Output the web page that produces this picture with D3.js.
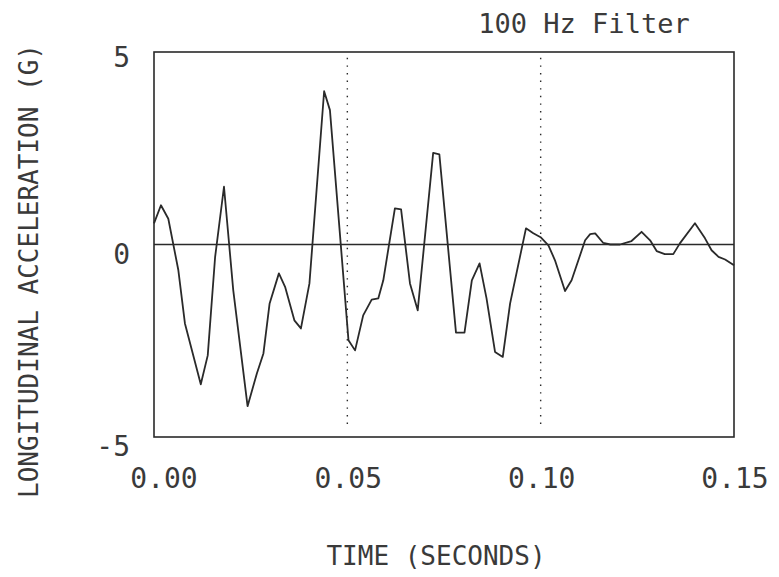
<!DOCTYPE html>
<html>
<head>
<meta charset="utf-8">
<script src="https://cdn.jsdelivr.net/npm/d3@7"></script>
<style>
  html, body { margin: 0; padding: 0; background: #fff; }
  svg { display: block; }
  text { font-family: "DejaVu Sans Mono", monospace; fill: #3a3a3a; }
</style>
</head>
<body>
<svg id="chart" width="779" height="577"></svg>
<script>
// ---- data ----
const times = [0, 0.0018, 0.0037, 0.0063, 0.0080, 0.0121, 0.0139, 0.0158, 0.0181, 0.0205, 0.0242,
  0.0266, 0.0283, 0.0299, 0.0323, 0.0339, 0.0363, 0.0380, 0.0402, 0.0440, 0.0455,
  0.0503, 0.0520, 0.0541, 0.0563, 0.0580, 0.0593, 0.0623, 0.0639, 0.0662, 0.0682,
  0.0722, 0.0738, 0.0781, 0.0803, 0.0822, 0.0842, 0.0860, 0.0882, 0.0902, 0.0921,
  0.0962, 0.0981, 0.1001, 0.1020, 0.1037, 0.1063, 0.1080, 0.1115, 0.1128, 0.1141,
  0.1162, 0.1180, 0.1205, 0.1235, 0.1261, 0.1283, 0.1300, 0.1321, 0.1343, 0.1360,
  0.1399, 0.1425, 0.1442, 0.1460, 0.1477, 0.1500];
const accel = [0.55, 1.02, 0.67, -0.67, -2.05, -3.63, -2.88, -0.33, 1.50, -1.19, -4.20,
  -3.35, -2.83, -1.53, -0.75, -1.10, -1.97, -2.18, -1.01, 3.98, 3.49,
  -2.49, -2.75, -1.84, -1.43, -1.40, -0.93, 0.94, 0.91, -1.01, -1.71,
  2.38, 2.34, -2.29, -2.29, -0.93, -0.49, -1.40, -2.79, -2.92, -1.53,
  0.42, 0.29, 0.18, -0.02, -0.41, -1.21, -0.93, 0.11, 0.27, 0.29,
  0.04, 0.00, 0.00, 0.09, 0.33, 0.11, -0.17, -0.25, -0.25, 0.03,
  0.55, 0.16, -0.15, -0.32, -0.39, -0.54];
const xTicks = [0, 0.05, 0.10, 0.15];
const xTickLabels = ["0.00", "0.05", "0.10", "0.15"];
const yTicks = [5, 0, -5];
const yTickLabels = ["5", "0", "-5"];
const gridTimes = [0.05, 0.10];
const title = "100 Hz Filter";
const xTitle = "TIME (SECONDS)";
const yTitle = "LONGITUDINAL ACCELERATION (G)";

// ---- drawing ----
const svg = d3.select("#chart");
const x = d3.scaleLinear().domain([0, 0.15]).range([154, 734]);
const y = d3.scaleLinear().domain([-5, 5]).range([437, 52]);
const ink = "#2a2a2a";

// dotted verticals
svg.selectAll("line.grid").data(gridTimes).join("line")
  .attr("class", "grid")
  .attr("x1", d => x(d)).attr("x2", d => x(d))
  .attr("y1", y(4.85)).attr("y2", y(-4.8))
  .attr("stroke", ink).attr("stroke-width", 1.4)
  .attr("stroke-dasharray", "1.4,6.2");

// zero line
svg.append("line")
  .attr("x1", x(0)).attr("x2", x(0.15))
  .attr("y1", y(0)).attr("y2", y(0))
  .attr("stroke", ink).attr("stroke-width", 1.5);

// frame
svg.append("rect")
  .attr("x", x(0)).attr("y", y(5))
  .attr("width", x(0.15) - x(0)).attr("height", y(-5) - y(5))
  .attr("fill", "none").attr("stroke", ink).attr("stroke-width", 1.6);

// data line
const pts = times.map((t, i) => [t, accel[i]]);
svg.append("path")
  .datum(pts)
  .attr("d", d3.line().x(d => x(d[0])).y(d => y(d[1])))
  .attr("fill", "none").attr("stroke", ink).attr("stroke-width", 1.8)
  .attr("stroke-linejoin", "round");

// y tick labels
svg.selectAll("text.ytick").data(yTicks).join("text")
  .attr("class", "ytick")
  .attr("x", 130)
  .attr("y", (d, i) => y(d) + (i === 0 ? 15 : 19))
  .attr("text-anchor", "end")
  .attr("font-size", 28)
  .text((d, i) => yTickLabels[i]);

// x tick labels
svg.selectAll("text.xtick").data(xTicks).join("text")
  .attr("class", "xtick")
  .attr("x", (d, i) => x(d) + (i === 0 ? 10 : 1))
  .attr("y", 488)
  .attr("text-anchor", "middle")
  .attr("font-size", 28)
  .text((d, i) => xTickLabels[i]);

// title
svg.append("text")
  .attr("x", 584).attr("y", 33)
  .attr("text-anchor", "middle")
  .attr("font-size", 27)
  .text(title);

// x axis title
svg.append("text")
  .attr("x", 436).attr("y", 565)
  .attr("text-anchor", "middle")
  .attr("font-size", 26)
  .text(xTitle);

// y axis title
svg.append("text")
  .attr("transform", "translate(38,271) rotate(-90)")
  .attr("text-anchor", "middle")
  .attr("font-size", 26)
  .text(yTitle);
</script>
</body>
</html>
